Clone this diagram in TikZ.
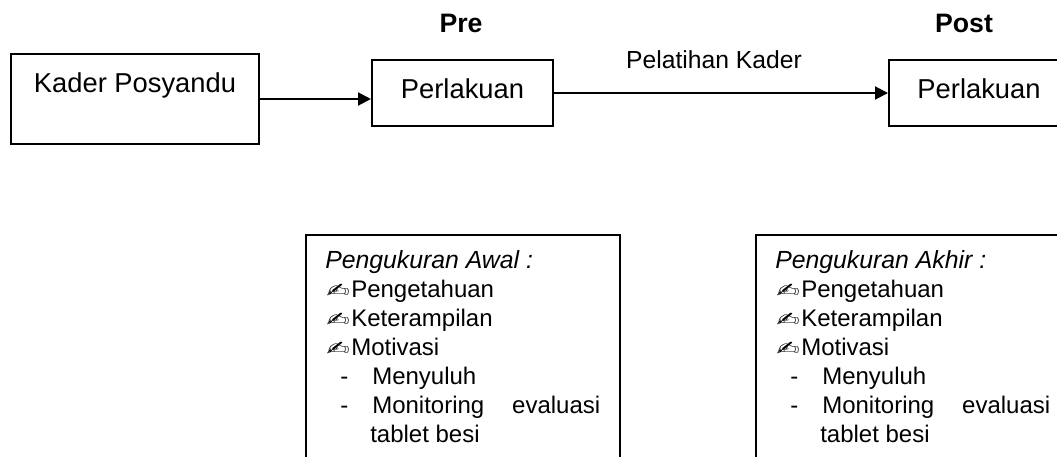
\documentclass[tikz,border=0pt]{standalone}
\usepackage{fontspec}
\setmainfont{Liberation Sans}
\newfontfamily\symfont{DejaVu Sans}
\usetikzlibrary{arrows.meta}
\newcommand{\penhand}{\scalebox{1.5}[1.05]{✍}}
\tikzset{
  box/.style={draw,line width=1.5pt,inner sep=0pt},
  arr/.style={line width=1.5pt,-{Triangle[length=9.75pt,width=9.75pt]}},
  big/.style={inner sep=0pt,anchor=base,font=\fontsize{20.5}{24}\selectfont},
  head/.style={inner sep=0pt,anchor=base,font=\fontsize{20}{24}\selectfont\bfseries},
  mid/.style={inner sep=0pt,anchor=base,font=\fontsize{18.5}{22}\selectfont},
  li/.style={inner sep=0pt,anchor=base west,font=\fontsize{18}{22}\selectfont},
  ital/.style={li,font=\fontsize{18.6}{22}\selectfont\itshape},
  bul/.style={inner sep=0pt,anchor=base west,font=\symfont\fontsize{14}{16}\selectfont},
}
\begin{document}
\begin{tikzpicture}[x=0.75pt,y=-0.75pt]
\useasboundingbox (0,0) rectangle (1057,457);
\clip (0,0) rectangle (1057,457);
% top boxes
\node[box,minimum width=186pt,minimum height=67.5pt] (b1) at (135,99) {};
\node[box,minimum width=135.75pt,minimum height=49.5pt] (b2) at (462.5,93) {};
\node[box,anchor=west,minimum width=180pt,minimum height=49.5pt] (b3) at (888,93) {};
\node[big] (t1) at (135,92) {Kader Posyandu};
\node[big] (t2) at (462.5,98) {Perlakuan};
\node[big] (t3) at (979,98) {Perlakuan};
\node[head] (pre) at (461,32) {Pre};
\node[head] (post) at (964,32) {Post};
\node[mid] (pk) at (714,68) {Pelatihan Kader};
\draw[arr] (b1.east) -- (b1.east -| b2.west);
\draw[arr] (b2.east) -- (b3.west);
% bottom boxes
\node[box,anchor=north west,minimum width=235.5pt,minimum height=200pt] (ba) at (305,234) {};
\node[box,anchor=north west,minimum width=280pt,minimum height=200pt] (bb) at (755,234) {};
% left list
\node[ital] (a0) at (325,268) {Pengukuran Awal :};
\node[bul] (a1b) at (326,297) {\penhand};
\node[li] (a1) at (351,297) {Pengetahuan};
\node[bul] (a2b) at (326,326) {\penhand};
\node[li] (a2) at (351,326) {Keterampilan};
\node[bul] (a3b) at (326,355) {\penhand};
\node[li] (a3) at (351,355) {Motivasi};
\node[li] (a4d) at (340,384) {-};
\node[li] (a4) at (372,384) {Menyuluh};
\node[li] (a5d) at (340,413) {-};
\node[li] (a5) at (372,413) {\makebox[171pt][l]{Monitoring\hfill evaluasi}};
\node[li] (a6) at (370,442) {tablet besi};
% right list
\node[ital] (c0) at (775,268) {Pengukuran Akhir :};
\node[bul] (c1b) at (776,297) {\penhand};
\node[li] (c1) at (801,297) {Pengetahuan};
\node[bul] (c2b) at (776,326) {\penhand};
\node[li] (c2) at (801,326) {Keterampilan};
\node[bul] (c3b) at (776,355) {\penhand};
\node[li] (c3) at (801,355) {Motivasi};
\node[li] (c4d) at (790,384) {-};
\node[li] (c4) at (822,384) {Menyuluh};
\node[li] (c5d) at (790,413) {-};
\node[li] (c5) at (822,413) {\makebox[171pt][l]{Monitoring\hfill evaluasi}};
\node[li] (c6) at (820,442) {tablet besi};
\end{tikzpicture}
\end{document}
